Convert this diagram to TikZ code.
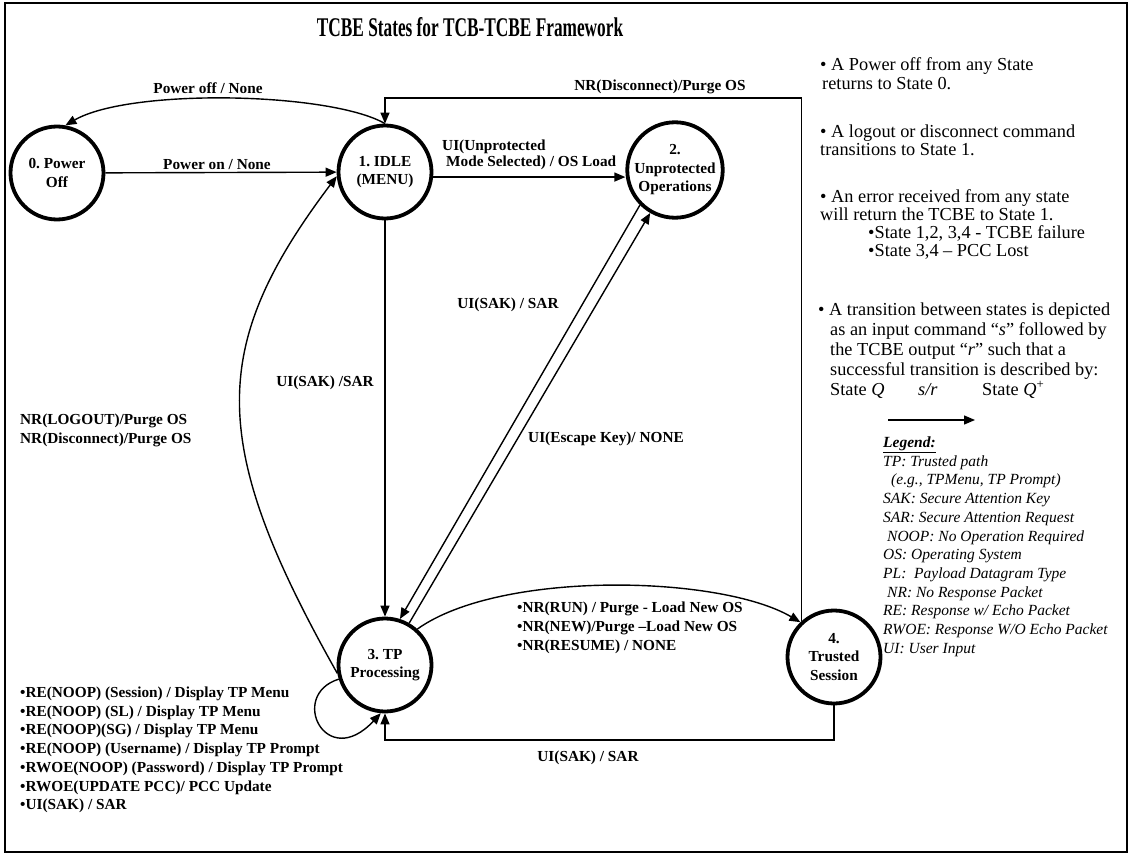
\documentclass[tikz,border=0pt]{standalone}
\usepackage{fontspec}
\setmainfont{Liberation Serif}
\usetikzlibrary{arrows.meta}
\begin{document}
\begin{tikzpicture}[x=1pt,y=-1pt,
  state/.style={circle, draw, line width=3.8pt, minimum size=93pt, inner sep=0pt, align=center, font=\bfseries\fontsize{15.3}{18.5}\selectfont},
  conn/.style={line width=1.4pt, -{Triangle[length=11pt,width=9pt]}},
  lbl/.style={font=\bfseries\fontsize{15.3}{18.7}\selectfont, inner sep=0pt},
  mlbl/.style={lbl, align=left, anchor=base west},
  note/.style={font=\fontsize{18.3}{18}\selectfont, inner sep=0pt, align=left, anchor=base west},
  leg/.style={font=\itshape\fontsize{15.5}{18.7}\selectfont, inner sep=0pt, align=left, anchor=base west}]
\useasboundingbox (0,0) rectangle (1130,856);
\draw[line width=2pt] (5,3) rectangle (1127,852);

\node[font=\bfseries\fontsize{27}{30}\selectfont] (title) at (470,27) {\scalebox{0.64}[1]{TCBE States for TCB-TCBE Framework}};

% states
\node[state] (P0) at (57,173) {0.\ Power\\Off};
\node[state] (S1) at (385,172) {1.\ IDLE\\(MENU)};
\node[state, minimum size=95pt] (S2) at (675,170) {2.\\Unprotected\\Operations};
\node[state] (S3) at (385,665) {3.\ TP\\Processing};
\node[state] (S4) at (834,657) {4.\\Trusted\\Session};

\coordinate (topy) at (0,98);
\coordinate (boty) at (0,740);

% connectors
\draw[conn] (P0) -- (S1);
\draw[conn] (S1.north) .. controls (330,92) and (130,88) .. (P0.80);
\draw[conn] (S4.132) -- (S4.132 |- topy) -| (S1.north);
\draw[conn] (S1.-6) -- (S1.-6 -| S2.west);
\draw[conn] (S1) -- (S3);
\draw[conn] (S2.225) -- (S3.72);
\draw[conn] (S3.60) -- (S2.240);
\draw[conn] (S3.48) .. controls (500,570) and (720,575) .. (S4.134);
\draw[conn] (S4.south) -- (S4.south |- boty) -| (S3.south);
\draw[conn] (S3.190) .. controls (208,444) and (208,347) .. (S1.185);
\draw[conn] (S3.197) .. controls (288,695) and (326,772) .. (S3.265);

% labels (multi-line nodes: base = baseline of last line)
\node[lbl] (lPoff) at (208,88) {Power off / None};
\node[lbl] (lPon) at (217,165) {Power on / None};
\node[lbl] (lNRd) at (660,87) {NR(Disconnect)/Purge OS};
\node[mlbl, font=\bfseries\fontsize{15.3}{17}\selectfont] (lUnp) at (442,167) {UI(Unprotected\\\hspace*{4pt}Mode Selected) / OS Load};
\node[lbl] (lSAK1) at (325,383) {UI(SAK) /SAR};
\node[lbl] (lSAK2) at (508,305) {UI(SAK) / SAR};
\node[lbl] (lEsc) at (606,439) {UI(Escape Key)/ NONE};
\node[mlbl, font=\bfseries\fontsize{15.3}{19}\selectfont] (lRun) at (517,650.5) {•NR(RUN) / Purge - Load New OS\\•NR(NEW)/Purge –Load New OS\\•NR(RESUME) / NONE};
\node[lbl] (lSAK3) at (588,758) {UI(SAK) / SAR};
\node[mlbl] (lLog) at (20,443.2) {NR(LOGOUT)/Purge OS\\NR(Disconnect)/Purge OS};
\node[mlbl] (lLoop) at (20,809.7) {•RE(NOOP) (Session) / Display TP Menu\\•RE(NOOP) (SL) / Display TP Menu\\•RE(NOOP)(SG) / Display TP Menu\\•RE(NOOP) (Username) / Display TP Prompt\\•RWOE(NOOP) (Password) / Display TP Prompt\\•RWOE(UPDATE PCC)/ PCC Update\\•UI(SAK) / SAR};

% notes
\node[note, font=\fontsize{18.3}{19}\selectfont] (n1) at (820,90) {• A Power off from any State\\\hspace*{2pt}returns to State 0.};
\node[note] (n2) at (820,155.5) {• A logout or disconnect command\\transitions to State 1.};
\node[note] (n3) at (820,220.5) {• An error received from any state\\will return the TCBE to State 1.};
\node[note] (n3b) at (868,256.5) {•State 1,2, 3,4 - TCBE failure\\•State 3,4 – PCC Lost};
\node[note, font=\fontsize{18.3}{20}\selectfont] (n4) at (818,375) {• A transition between states is depicted\\\hspace*{12pt}as an input command “\textit{s}” followed by\\\hspace*{12pt}the TCBE output “\textit{r}” such that a\\\hspace*{12pt}successful transition is described by:};
\node[note] (q1) at (830,395) {State \textit{Q}};
\node[note] (q2) at (918,395) {\textit{s/r}};
\node[note] (q3) at (982,395) {State \textit{Q}\textsuperscript{+}};
\coordinate (la) at (888,420);
\coordinate (lb) at (975,420);
\draw[conn] (la) -- (lb);

\node[leg] (legend) at (883,653.2) {\textbf{\underline{Legend:}}\\TP: Trusted path\\\hspace*{8pt}(e.g., TPMenu, TP Prompt)\\SAK: Secure Attention Key\\SAR: Secure Attention Request\\\hspace*{4pt}NOOP: No Operation Required\\OS: Operating System\\PL:\ \ Payload Datagram Type\\\hspace*{4pt}NR: No Response Packet\\RE: Response w/ Echo Packet\\RWOE: Response W/O Echo Packet\\UI: User Input};
\end{tikzpicture}
\end{document}
